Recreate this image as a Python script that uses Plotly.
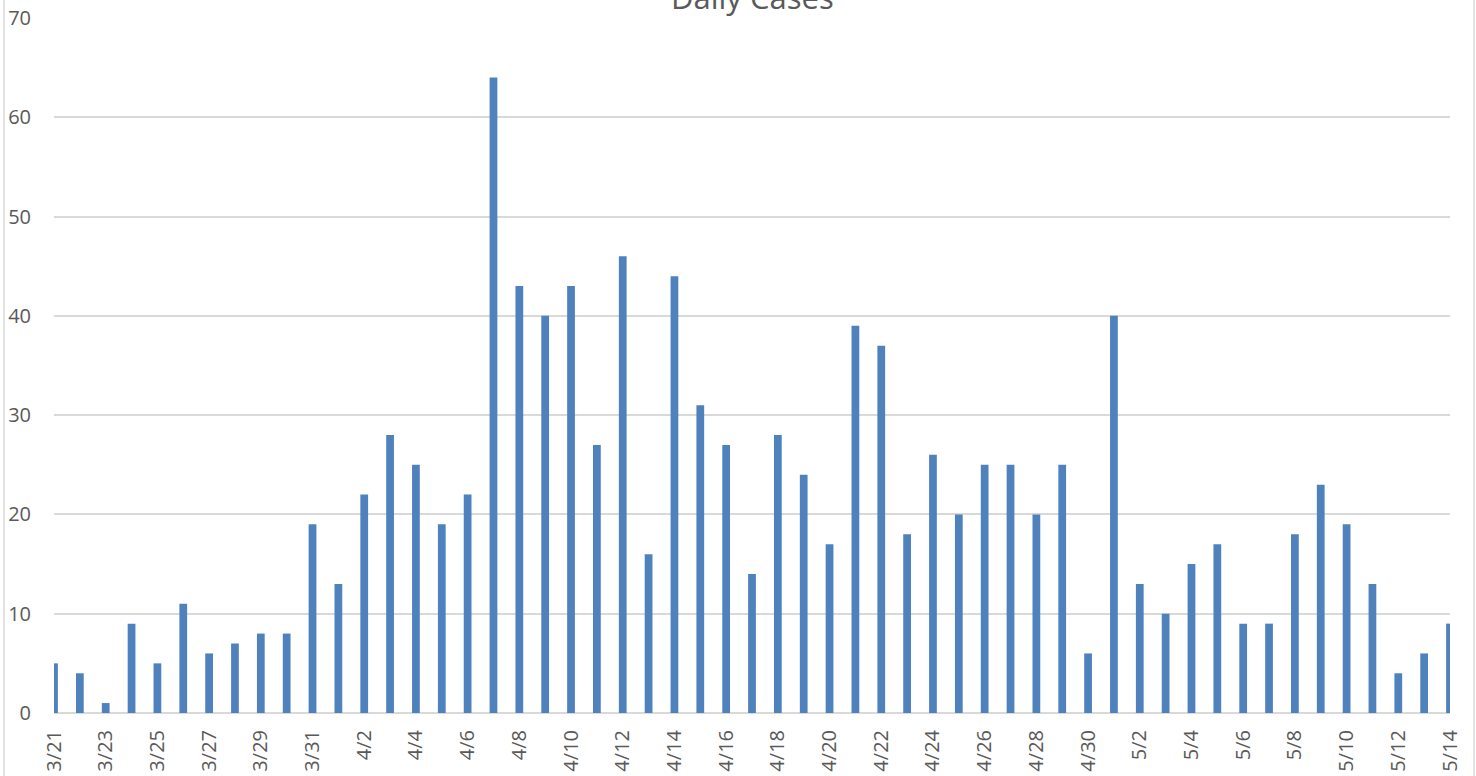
import plotly.graph_objects as go

dates = (["3/%d" % d for d in range(21, 32)]
         + ["4/%d" % d for d in range(1, 31)]
         + ["5/%d" % d for d in range(1, 15)])
cases = [5, 4, 1, 9, 5, 11, 6, 7, 8, 8, 19,
         13, 22, 28, 25, 19, 22, 64, 43, 40, 43, 27, 46, 16, 44, 31, 27, 14, 28, 24, 17,
         39, 37, 18, 26, 20, 25, 25, 20, 25, 6,
         40, 13, 10, 15, 17, 9, 9, 18, 23, 19, 13, 4, 6, 9]
tick_labels = dates[::2]
y_ticks = [0, 10, 20, 30, 40, 50, 60, 70]

W, H = 1476, 776
ml, mr, mt, mb = 54, 26, 18, 63

fig = go.Figure()
fig.add_trace(go.Bar(x=dates, y=cases, width=0.3, marker_color="#4F81BD",
                     marker_line_width=0))

grid = "#D9D9D9"
txt = "#595959"
fig.update_layout(
    width=W, height=H,
    margin=dict(l=ml, r=mr, t=mt, b=mb, pad=0, autoexpand=False),
    paper_bgcolor="white", plot_bgcolor="white",
    showlegend=False,
    font=dict(family="Open Sans", color=txt, size=20),
    xaxis=dict(type="category", categoryorder="array", categoryarray=dates,
               range=[0, len(dates) - 1], tickmode="array", tickvals=tick_labels,
               ticktext=tick_labels, tickangle=-90, showgrid=False, zeroline=False,
               showline=False, ticks="", ticklabelstandoff=12, automargin=False,
               tickfont=dict(family="Open Sans", size=20, color=txt)),
    yaxis=dict(range=[0, 70], tickvals=y_ticks, showgrid=True, gridcolor=grid,
               gridwidth=1.5, zeroline=True, zerolinecolor=grid, zerolinewidth=1.5,
               showline=False, ticks="", ticklabelstandoff=22, automargin=False,
               tickfont=dict(family="Open Sans", size=20, color=txt)),
    annotations=[dict(text="Daily Cases", xref="paper", yref="paper", x=0.5, y=1,
                      xanchor="center", yanchor="bottom", yshift=-2, showarrow=False,
                      font=dict(family="Open Sans", size=31, color=txt))],
)
pw = W - ml - mr
for px in (4, 1474):
    xp = (px - ml) / pw
    fig.add_shape(type="line", xref="paper", yref="paper", x0=xp, x1=xp,
                  y0=-0.2, y1=1.1, line=dict(color=grid, width=1.5))

fig.write_html("out.html", config={"displayModeBar": False},
               post_script="document.body.style.margin='0';document.body.style.overflow='hidden';")
